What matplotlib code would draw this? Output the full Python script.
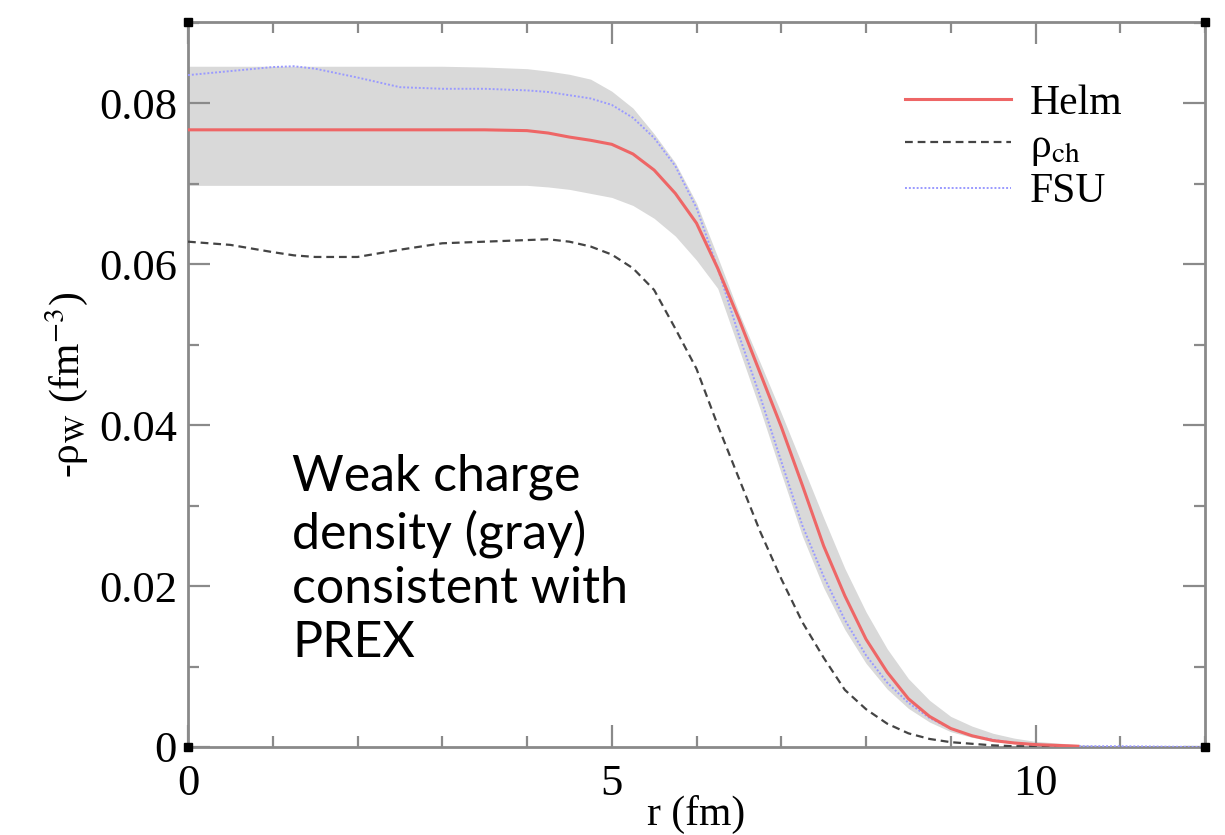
import matplotlib
matplotlib.use("Agg")
import matplotlib.pyplot as plt
from matplotlib.ticker import MultipleLocator, FuncFormatter

# ---------------- data ----------------
r_grid = [0.0, 0.5, 1.0, 1.25, 1.5, 2.0, 2.5, 3.0, 3.5, 4.0, 4.25, 4.5, 4.75,
          5.0, 5.25, 5.5, 5.75, 6.0, 6.25, 6.5, 6.75, 7.0, 7.25, 7.5, 7.75,
          8.0, 8.25, 8.5, 8.75, 9.0, 9.25, 9.5, 9.75, 10.0, 10.5, 11.0, 12.0]

band_upper = [0.0846, 0.0846, 0.0846, 0.0846, 0.0846, 0.0846, 0.0846, 0.0846, 0.0845,
              0.0843, 0.0840, 0.0836, 0.0830, 0.0815, 0.0794, 0.0762, 0.0726, 0.0676,
              0.0609, 0.0540, 0.0478, 0.0415, 0.0350, 0.0285, 0.0222, 0.0168, 0.0122,
              0.0085, 0.0058, 0.0038, 0.0026, 0.0017, 0.0011, 0.0007, 0.0003, 0.0001, 0.0]

band_lower = [0.0698, 0.0698, 0.0698, 0.0698, 0.0698, 0.0698, 0.0698, 0.0698, 0.0698,
              0.0698, 0.0696, 0.0693, 0.0688, 0.0683, 0.0673, 0.0657, 0.0635, 0.0605,
              0.0570, 0.0495, 0.0420, 0.0340, 0.0262, 0.0198, 0.0146, 0.0104, 0.0072,
              0.0048, 0.0031, 0.0019, 0.0012, 0.0007, 0.0004, 0.0002, 0.0001, 0.0, 0.0]

helm = [0.0767, 0.0767, 0.0767, 0.0767, 0.0767, 0.0767, 0.0767, 0.0767, 0.0767,
        0.0766, 0.0763, 0.0758, 0.0754, 0.0749, 0.0737, 0.0717, 0.0688, 0.0651,
        0.0595, 0.0532, 0.0465, 0.0398, 0.0325, 0.0250, 0.0188, 0.0134, 0.0093,
        0.0060, 0.0038, 0.0023, 0.0014, 0.0008, 0.0005, 0.0003, 0.0001]

fsu = [0.0835, 0.0840, 0.0845, 0.0846, 0.0843, 0.0832, 0.0820, 0.0818, 0.0818,
       0.0816, 0.0814, 0.0810, 0.0806, 0.0798, 0.0782, 0.0757, 0.0722, 0.0670,
       0.0595, 0.0512, 0.0436, 0.0355, 0.0275, 0.0212, 0.0158, 0.0114, 0.0080,
       0.0055, 0.0036, 0.0023, 0.0014, 0.0009, 0.0005, 0.0003, 0.0001, 0.0001, 0.0]

rho_ch = [0.0628, 0.0624, 0.0615, 0.0611, 0.0609, 0.0609, 0.0618, 0.0626, 0.0628,
          0.0630, 0.0631, 0.0628, 0.0622, 0.0612, 0.0595, 0.0568, 0.0520, 0.0470,
          0.0400, 0.0334, 0.0268, 0.0209, 0.0155, 0.0111, 0.0071, 0.0047, 0.0029,
          0.0017, 0.0010, 0.0006, 0.0004, 0.0002, 0.0001, 0.0001, 0.0]

legend_labels = ["Helm", "ρ$_{\\mathrm{ch}}$", "FSU"]
annotation = "Weak charge\ndensity (gray)\nconsistent with\nPREX"

# ---------------- figure ----------------
plt.rcParams["font.family"] = ["Liberation Serif", "DejaVu Serif"]
plt.rcParams["mathtext.fontset"] = "stix"

W, H = 1225, 835
fig = plt.figure(figsize=(W / 100, H / 100), dpi=100)
ax = fig.add_axes([188 / W, 1 - 747 / H, (1205 - 188) / W, (747 - 22) / H])

spine_col = "#8a8a8a"

ax.fill_between(r_grid, band_lower, band_upper, color="#d9d9d9", lw=0, zorder=1)
l_ch, = ax.plot(r_grid[:len(rho_ch)], rho_ch, color="#444444", lw=1.6,
                dashes=(3.5, 2.2), zorder=3, label=legend_labels[1])
l_fsu, = ax.plot(r_grid[:len(fsu)], fsu, color="#9a9aff", lw=1.4, ls=(0, (1, 1)),
                 zorder=4, label=legend_labels[2])
l_helm, = ax.plot(r_grid[:len(helm)], helm, color="#ee6666", lw=2.2, zorder=5,
                  label=legend_labels[0])

ax.set_xlim(0, 12)
ax.set_ylim(0, 0.0901)

ax.xaxis.set_major_locator(MultipleLocator(5))
ax.xaxis.set_minor_locator(MultipleLocator(1))
ax.yaxis.set_major_locator(MultipleLocator(0.02))
ax.yaxis.set_minor_locator(MultipleLocator(0.01))
ax.yaxis.set_major_formatter(FuncFormatter(
    lambda v, p: "0" if abs(v) < 1e-9 else f"{v:.2f}"))

ax.tick_params(which="both", direction="in", top=True, right=True,
               color=spine_col, width=1.6, labelsize=32)
ax.tick_params(which="major", length=16)
ax.tick_params(which="minor", length=8)
ax.tick_params(axis="x", pad=12)
ax.tick_params(axis="y", pad=8)
for s in ax.spines.values():
    s.set_color(spine_col)
    s.set_linewidth(2)

# corner markers
for cx, cy in [(0, 0), (0, 1), (1, 0), (1, 1)]:
    ax.plot([cx], [cy], marker="s", ms=6, color="black", transform=ax.transAxes,
            clip_on=False, zorder=10)

ax.set_xlabel("r (fm)", fontsize=30, labelpad=-6)
ax.set_ylabel("-ρ$_{\\mathrm{W}}$ (fm$^{\\mathrm{-3}}$)", fontsize=30, labelpad=6)

leg = ax.legend(handles=[l_helm, l_ch, l_fsu],
                loc="upper left", bbox_to_anchor=(905 / W, 1 - 84 / H),
                bbox_transform=fig.transFigure, frameon=False, fontsize=30,
                handlelength=2.55, handletextpad=0.45, labelspacing=0.12,
                borderpad=0, borderaxespad=0)

fig.text(292 / W, 1 - 657 / H, annotation, fontsize=36, family="Lato",
         va="baseline", ha="left", linespacing=1.22)

fig.savefig("out.png", dpi=100)
